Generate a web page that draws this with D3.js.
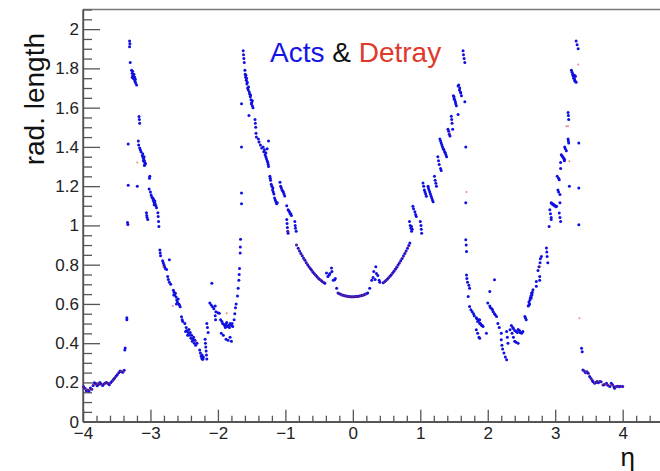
<!DOCTYPE html>
<html>
<head>
<meta charset="utf-8">
<script src="https://cdn.jsdelivr.net/npm/d3@7"></script>
<style>
  html, body { margin: 0; padding: 0; background: #fff; }
  svg { display: block; font-family: "Liberation Sans", Arial, Helvetica, sans-serif; }
</style>
</head>
<body>
<svg id="chart" width="660" height="471"></svg>
<script>
// ---------------- DATA ----------------
const xTickValues = [-4, -3, -2, -1, 0, 1, 2, 3, 4];
const xTickLabels = ["\u22124", "\u22123", "\u22122", "\u22121", "0", "1", "2", "3", "4"];
const yTickValues = [0, 0.2, 0.4, 0.6, 0.8, 1, 1.2, 1.4, 1.6, 1.8, 2];
const yTickLabels = ["0", "0.2", "0.4", "0.6", "0.8", "1", "1.2", "1.4", "1.6", "1.8", "2"];

// Acts (blue): [eta, radiation length]
const actsForwardNeg = [
  [-3.99,0.178],[-3.97,0.170],[-3.95,0.158],[-3.93,0.162],[-3.91,0.156],[-3.89,0.172],[-3.87,0.165],
  [-3.85,0.185],[-3.83,0.198],[-3.81,0.192],[-3.79,0.183],[-3.77,0.190],[-3.75,0.200],[-3.73,0.192],
  [-3.71,0.185],[-3.69,0.192],[-3.67,0.197],[-3.65,0.200],[-3.63,0.195],[-3.61,0.188],[-3.59,0.198],
  [-3.57,0.206],[-3.55,0.215],[-3.53,0.222],[-3.51,0.232],[-3.49,0.240],[-3.47,0.250],[-3.45,0.258],
  [-3.43,0.255],[-3.41,0.252],[-3.39,0.262],
  [-3.38,0.365],[-3.375,0.375],[-3.35,0.53],[-3.35,0.52],
  [-3.31,1.94],[-3.305,1.925],[-3.31,1.91],[-3.30,1.83],[-3.28,1.79],[-3.27,1.775],[-3.26,1.765],
  [-3.27,1.755],[-3.25,1.76],[-3.24,1.745],[-3.23,1.735],[-3.22,1.725],[-3.205,1.715],
  [-3.265,1.785],[-3.255,1.75],[-3.245,1.77],[-3.235,1.755],[-3.225,1.745],
  [-3.17,1.555],[-3.165,1.54],[-3.16,1.52],[-3.33,1.415],
  [-3.18,1.43],[-3.175,1.41],[-3.16,1.395],[-3.15,1.385],[-3.14,1.375],
  [-3.12,1.355],[-3.11,1.345],[-3.10,1.34],[-3.09,1.33],[-3.085,1.32],[-3.08,1.31],
  [-3.115,1.365],[-3.105,1.33],[-3.095,1.35],[-3.075,1.315],[-3.09,1.305],
  [-3.01,1.25],[-3.015,1.24],[-3.33,1.205],[-3.195,1.20],[-3.02,1.185],
  [-3.0,1.17],[-2.99,1.155],[-2.98,1.145],[-2.96,1.13],[-2.95,1.12],[-2.94,1.115],[-2.93,1.11],[-2.92,1.10],
  [-2.97,1.14],[-2.955,1.135],[-2.945,1.105],[-2.935,1.125],[-2.91,1.09],
  [-3.06,1.065],[-3.055,1.05],[-3.05,1.04],[-3.04,1.03],
  [-2.89,1.065],[-2.885,1.045],[-2.88,1.02],[-2.875,0.995],
  [-3.34,1.015],[-3.335,1.005],
  [-2.86,0.875],[-2.855,0.86],[-2.85,0.845],
  [-2.82,0.82],[-2.81,0.81],[-2.80,0.80],[-2.79,0.79],[-2.78,0.78],[-2.76,0.775],[-2.72,0.825],
  [-2.745,0.74],[-2.735,0.725],[-2.72,0.71],[-2.70,0.70],
  [-2.66,0.67],[-2.65,0.66],[-2.64,0.645],[-2.62,0.635],[-2.61,0.62],[-2.60,0.61],[-2.58,0.60],[-2.57,0.595],
  [-2.655,0.645],[-2.63,0.655],[-2.615,0.60],[-2.59,0.625],[-2.56,0.585],
  [-2.54,0.535],[-2.53,0.52],[-2.52,0.51],
  [-2.49,0.50],[-2.47,0.48],[-2.46,0.465],[-2.44,0.455],[-2.43,0.47],[-2.42,0.44],[-2.40,0.425],
  [-2.38,0.41],[-2.36,0.43],[-2.35,0.40],[-2.33,0.39],
  [-2.48,0.46],[-2.45,0.44],[-2.41,0.455],[-2.39,0.44],[-2.37,0.42],[-2.34,0.415],[-2.31,0.40],
  [-2.27,0.365],[-2.26,0.35],[-2.25,0.335],[-2.24,0.325],[-2.23,0.318],[-2.22,0.32],
  [-2.235,0.34],[-2.215,0.33]
];
const actsBarrelNeg = [
  [-2.19,0.42],[-2.185,0.40],[-2.18,0.38],[-2.175,0.36],[-2.17,0.34],[-2.165,0.32],
  [-2.165,0.50],[-2.155,0.48],[-2.145,0.455],
  [-2.09,0.705],
  [-2.12,0.605],[-2.10,0.595],[-2.08,0.585],[-2.06,0.575],[-2.04,0.59],[-2.03,0.56],[-2.0,0.555],[-1.98,0.553],
  [-2.04,0.54],[-2.035,0.52],
  [-1.96,0.52],[-1.93,0.50],[-1.90,0.49],[-1.88,0.495],[-1.86,0.485],[-1.84,0.49],[-1.82,0.50],[-1.80,0.49],[-1.78,0.485],
  [-1.94,0.51],[-1.91,0.495],[-1.87,0.505],[-1.83,0.48],[-1.79,0.50],[-1.89,0.48],
  [-1.95,0.45],[-1.92,0.44],[-1.88,0.42],[-1.85,0.415],[-1.82,0.43],[-1.80,0.41],
  [-1.76,0.52],[-1.75,0.55],[-1.74,0.58],[-1.73,0.60],
  [-1.71,0.64],[-1.70,0.68],[-1.69,0.72],[-1.685,0.75],[-1.68,0.78],
  [-1.67,0.86],[-1.668,0.89],[-1.665,0.93],
  [-1.65,1.11],[-1.65,1.165],[-1.65,1.40],[-1.65,1.62],
  [-1.625,1.89],[-1.62,1.87],[-1.615,1.85],[-1.61,1.83],
  [-1.60,1.79],[-1.595,1.77],[-1.59,1.755],[-1.58,1.74],
  [-1.57,1.72],[-1.56,1.70],[-1.55,1.69],[-1.53,1.67],[-1.52,1.655],[-1.51,1.64],[-1.50,1.625],[-1.49,1.61],[-1.48,1.60],
  [-1.585,1.765],[-1.575,1.75],[-1.565,1.73],[-1.545,1.705],[-1.535,1.68],[-1.515,1.665],[-1.505,1.62],[-1.49,1.635],
  [-1.54,1.56],
  [-1.45,1.54],[-1.445,1.52],[-1.44,1.50],[-1.435,1.47],[-1.43,1.45],
  [-1.40,1.44],[-1.39,1.425],[-1.37,1.41],[-1.35,1.395],
  [-1.33,1.40],[-1.32,1.375],[-1.30,1.36],[-1.28,1.34],[-1.26,1.32],[-1.25,1.30],[-1.25,1.43],[-1.27,1.39],
  [-1.31,1.385],[-1.29,1.35],[-1.29,1.37],[-1.27,1.33],[-1.255,1.31],
  [-1.23,1.25],[-1.22,1.23],[-1.21,1.21],[-1.19,1.18],[-1.17,1.16],[-1.16,1.14],[-1.14,1.12],[-1.13,1.11],
  [-1.225,1.24],[-1.20,1.20],[-1.18,1.17],[-1.15,1.13],[-1.12,1.115],[-1.185,1.19],
  [-1.08,1.22],[-1.07,1.20],[-1.05,1.18],[-1.03,1.17],[-1.01,1.15],
  [-1.06,1.19],[-1.04,1.175],[-1.02,1.16],
  [-0.98,1.10],[-0.96,1.08],[-0.94,1.07],[-0.92,1.06],[-0.91,1.05],[-0.95,1.075],[-0.93,1.06],
  [-0.98,1.03],[-0.975,1.01],[-0.97,0.99],[-0.965,0.97],[-0.96,0.96],
  [-0.86,1.02],[-0.855,1.0],[-0.85,0.985],[-0.84,0.97]
];
const actsCentral = [
  [-0.835,0.900],[-0.81,0.884],[-0.79,0.870],[-0.77,0.857],[-0.75,0.845],[-0.73,0.833],[-0.71,0.822],
  [-0.69,0.810],[-0.67,0.800],[-0.65,0.790],[-0.63,0.780],[-0.61,0.771],[-0.59,0.762],[-0.57,0.754],
  [-0.55,0.746],[-0.53,0.738],[-0.51,0.731],[-0.49,0.725],[-0.47,0.719],[-0.45,0.713],[-0.43,0.709],[-0.415,0.705],
  [-0.39,0.757],[-0.37,0.74],[-0.35,0.748],[-0.34,0.755],[-0.316,0.783],[-0.31,0.765],[-0.29,0.72],
  [-0.27,0.723],[-0.26,0.73],[-0.24,0.68],
  [-0.22,0.656],[-0.20,0.652],[-0.18,0.649],[-0.16,0.646],[-0.14,0.644],[-0.12,0.642],[-0.10,0.640],
  [-0.08,0.639],[-0.06,0.638],[-0.04,0.637],[-0.02,0.637],[0.0,0.637],[0.02,0.637],[0.04,0.638],
  [0.06,0.638],[0.08,0.639],[0.10,0.640],[0.12,0.642],[0.14,0.644],[0.16,0.646],[0.18,0.649],
  [0.20,0.652],[0.22,0.656],
  [0.25,0.68],[0.28,0.72],[0.30,0.735],[0.31,0.765],[0.33,0.725],[0.34,0.79],[0.35,0.755],
  [0.37,0.745],[0.39,0.72],[0.40,0.71],
  [0.45,0.708],[0.47,0.713],[0.49,0.719],[0.51,0.726],[0.53,0.733],[0.55,0.741],[0.57,0.749],
  [0.59,0.758],[0.61,0.767],[0.63,0.777],[0.65,0.787],[0.67,0.798],[0.69,0.809],[0.71,0.820],
  [0.73,0.832],[0.75,0.844],[0.77,0.857],[0.79,0.870],[0.81,0.884],[0.83,0.898],[0.845,0.91]
];
const actsBarrelPos = [
  [0.84,1.02],[0.85,1.0],[0.86,0.985],[0.87,0.97],
  [0.87,0.995],[0.88,0.98],
  [0.89,1.097],[0.90,1.085],[0.92,1.07],[0.93,1.055],[0.94,1.046],
  [1.0,1.02],[1.01,1.0],[1.015,0.98],[1.02,0.96],
  [1.04,1.216],[1.05,1.20],[1.06,1.18],[1.08,1.16],[1.09,1.148],[1.07,1.17],
  [1.115,1.20],[1.13,1.18],[1.15,1.16],[1.17,1.14],[1.19,1.12],
  [1.12,1.19],[1.14,1.17],[1.16,1.15],[1.18,1.13],
  [1.21,1.25],[1.22,1.23],[1.23,1.215],[1.24,1.20],
  [1.26,1.35],[1.27,1.33],[1.28,1.31],[1.30,1.29],[1.31,1.28],
  [1.29,1.44],[1.31,1.42],[1.33,1.40],[1.35,1.385],[1.37,1.37],[1.39,1.35],
  [1.30,1.43],[1.32,1.41],[1.34,1.39],[1.36,1.375],[1.38,1.36],
  [1.41,1.49],[1.42,1.48],[1.43,1.465],[1.44,1.455],
  [1.46,1.556],[1.465,1.54],[1.47,1.52],[1.48,1.49],
  [1.56,1.565],
  [1.49,1.66],[1.50,1.645],[1.52,1.63],[1.535,1.61],
  [1.51,1.64],[1.525,1.62],[1.50,1.655],
  [1.56,1.71],[1.58,1.69],[1.60,1.675],[1.61,1.66],
  [1.585,1.70],[1.57,1.715],[1.595,1.68],
  [1.66,1.63],[1.674,1.40],[1.674,1.115],
  [1.634,1.89],[1.64,1.87],[1.65,1.85],[1.66,1.83],
  [1.674,0.927],[1.68,0.90],[1.685,0.867],
  [1.685,0.748],[1.69,0.73],[1.70,0.71],[1.72,0.695],[1.73,0.68],
  [1.71,0.638],
  [1.73,0.587],[1.75,0.57],[1.77,0.56],[1.79,0.55],[1.80,0.54],[1.83,0.53],[1.86,0.52],[1.88,0.52],
  [1.84,0.525],[1.85,0.51],[1.87,0.515],[1.89,0.50],[1.91,0.49],
  [1.88,0.50],[1.90,0.495],[1.92,0.49],[1.93,0.485],
  [1.83,0.468],[1.85,0.45],[1.87,0.43],[1.88,0.425],
  [1.98,0.45],
  [2.0,0.605],[2.03,0.59],[2.06,0.575],[2.08,0.56],[2.10,0.55],[2.13,0.536],
  [2.04,0.58],[2.07,0.57],[2.11,0.545],
  [2.10,0.723],[2.03,0.663],
  [2.15,0.50],[2.17,0.48],[2.20,0.45],
  [2.20,0.417],[2.21,0.39],[2.22,0.37],[2.24,0.35],[2.26,0.33],[2.28,0.315],
  [2.33,0.468],[2.36,0.45],[2.38,0.43],[2.40,0.41],[2.42,0.405],[2.45,0.40]
];
const actsForwardPos = [
  [2.28,0.46],[2.29,0.43],[2.30,0.40],
  [2.35,0.49],[2.38,0.475],[2.42,0.46],[2.45,0.47],[2.48,0.455],[2.50,0.45],[2.52,0.46],
  [2.37,0.48],[2.40,0.465],[2.44,0.455],[2.47,0.465],[2.51,0.455],
  [2.55,0.536],[2.56,0.528],[2.57,0.52],
  [2.60,0.59],[2.61,0.61],[2.62,0.60],[2.63,0.63],[2.64,0.64],[2.65,0.655],[2.66,0.66],[2.67,0.672],
  [2.61,0.595],[2.625,0.62],[2.645,0.63],[2.655,0.645],
  [2.72,0.714],[2.72,0.69],
  [2.77,0.74],[2.77,0.72],
  [2.745,0.77],[2.76,0.79],[2.775,0.81],[2.795,0.842],[2.78,0.83],
  [2.89,0.81],
  [2.87,0.885],[2.875,0.865],[2.88,0.842],
  [2.91,0.995],
  [2.92,1.08],[2.93,1.06],[2.94,1.04],[2.94,1.03],
  [2.94,1.115],[2.96,1.11],[2.98,1.105],[3.0,1.10],[3.02,1.097],
  [2.95,1.11],[2.97,1.105],[2.99,1.10],[3.01,1.095],
  [3.06,1.063],[3.07,1.04],[3.08,1.02],
  [3.07,1.115],
  [3.04,1.18],[3.05,1.17],[3.07,1.157],
  [3.03,1.25],[3.05,1.24],[3.06,1.233],
  [3.21,1.20],[3.35,1.19],
  [3.08,1.32],[3.08,1.29],
  [3.09,1.36],[3.11,1.35],[3.13,1.34],[3.14,1.335],
  [3.10,1.355],[3.12,1.345],[3.135,1.33],
  [3.14,1.40],[3.15,1.39],[3.165,1.38],
  [3.19,1.44],[3.195,1.43],[3.20,1.42],
  [3.35,1.42],
  [3.19,1.575],[3.195,1.56],[3.20,1.54],
  [3.24,1.79],[3.26,1.77],[3.27,1.76],[3.28,1.75],[3.29,1.74],[3.30,1.76],[3.31,1.73],
  [3.25,1.78],[3.265,1.765],[3.275,1.75],[3.285,1.765],[3.295,1.735],
  [3.31,1.94],[3.325,1.92],[3.34,1.90],
  [3.35,1.004],
  [3.39,0.374],[3.40,0.357],
  [3.41,0.263],[3.43,0.258],[3.45,0.25],[3.47,0.255],[3.49,0.247],
  [3.51,0.23],[3.53,0.22],[3.55,0.21],[3.56,0.204],
  [3.585,0.196],[3.60,0.20],[3.62,0.205],[3.64,0.198],[3.66,0.205],[3.68,0.204],
  [3.71,0.187],[3.73,0.19],[3.76,0.196],[3.78,0.186],[3.81,0.179],
  [3.83,0.196],[3.85,0.188],[3.87,0.178],[3.88,0.17],
  [3.905,0.179],[3.93,0.18],[3.95,0.178],[3.97,0.18],[4.0,0.179]
];

// Detray (red): points where the red markers show
const detrayTailNeg = [
  [-3.99,0.176],[-3.96,0.166],[-3.93,0.160],[-3.90,0.164],[-3.87,0.167],[-3.84,0.190],[-3.80,0.190],
  [-3.76,0.195],[-3.72,0.190],[-3.68,0.194],[-3.64,0.198],[-3.60,0.192],[-3.56,0.210],[-3.52,0.227],
  [-3.48,0.245],[-3.44,0.257],[-3.40,0.256]
];
const detrayScatter = [
  [-3.195,1.32],[-2.81,0.79],[-2.67,0.59],[-2.32,0.41],[-1.87,0.553],[-0.96,0.97],
  [1.44,1.47],[1.685,1.17],[2.78,0.79],[3.165,1.505],[3.19,1.505],[3.21,1.327],[3.34,1.82],[3.36,0.527]
];
const detrayCentral = [
  [-0.835,0.901],[-0.80,0.877],[-0.76,0.851],[-0.72,0.827],[-0.68,0.805],[-0.64,0.785],[-0.60,0.766],
  [-0.56,0.750],[-0.52,0.734],[-0.48,0.722],[-0.44,0.711],
  [-0.21,0.654],[-0.17,0.647],[-0.13,0.643],[-0.09,0.639],[-0.05,0.637],[-0.01,0.636],[0.03,0.637],
  [0.07,0.638],[0.11,0.641],[0.15,0.645],[0.19,0.650],
  [0.46,0.710],[0.50,0.722],[0.54,0.737],[0.58,0.753],[0.62,0.772],[0.66,0.792],[0.70,0.814],
  [0.74,0.838],[0.78,0.863],[0.82,0.891]
];
const detrayTailPos = [
  [3.42,0.260],[3.46,0.252],[3.50,0.240],[3.54,0.215],[3.58,0.198],[3.62,0.204],[3.66,0.203],
  [3.70,0.190],[3.74,0.192],[3.78,0.188],[3.82,0.188],[3.86,0.184],[3.90,0.176],[3.94,0.179],[3.98,0.180]
];

const actsAll = [].concat(actsForwardNeg, actsBarrelNeg, actsCentral, actsBarrelPos, actsForwardPos);
const detrayAll = [].concat(detrayTailNeg, detrayScatter, detrayCentral, detrayTailPos);

// ---------------- CHART ----------------
const W = 660, H = 471;
const mLeft = 83, mBottom = 421.7, mTop = 9.5;
const pxPerEta = 67.46;
const svg = d3.select("#chart");
svg.append("rect").attr("width", W).attr("height", H).attr("fill", "#fff");

const x = d3.scaleLinear().domain([-4, 4.6]).range([mLeft, mLeft + 8.6 * pxPerEta]);
const y = d3.scaleLinear().domain([0, 2.1]).range([mBottom, mTop]);

const axisColor = "#555";
const textColor = "#222";

// frame top line
svg.append("line")
  .attr("x1", mLeft).attr("x2", W + 5).attr("y1", mTop).attr("y2", mTop)
  .attr("stroke", "#777").attr("stroke-width", 1.4);

// minor ticks
const xMinor = d3.range(0, 44).filter(i => i % 5 !== 0).map(i => -4 + i * 0.2);
const yMinor = d3.range(0, 43).filter(i => i % 4 !== 0).map(i => i * 0.05);

const gxMinor = svg.append("g").attr("transform", `translate(0,${mBottom})`)
  .call(d3.axisBottom(x).tickValues(xMinor).tickFormat("").tickSize(-6).tickSizeOuter(0));
const gyMinor = svg.append("g").attr("transform", `translate(${mLeft},0)`)
  .call(d3.axisLeft(y).tickValues(yMinor).tickFormat("").tickSize(-9).tickSizeOuter(0));

const gx = svg.append("g").attr("transform", `translate(0,${mBottom})`)
  .call(d3.axisBottom(x).tickValues(xTickValues)
    .tickFormat((d, i) => xTickLabels[i]).tickSize(-12).tickSizeOuter(0).tickPadding(5));
const gy = svg.append("g").attr("transform", `translate(${mLeft},0)`)
  .call(d3.axisLeft(y).tickValues(yTickValues)
    .tickFormat((d, i) => yTickLabels[i]).tickSize(-17).tickSizeOuter(0).tickPadding(4));

[gxMinor, gyMinor, gx, gy].forEach(g => {
  g.selectAll("path.domain").attr("stroke", axisColor).attr("stroke-width", 1.4);
  g.selectAll(".tick line").attr("stroke", axisColor).attr("stroke-width", 1.3);
  g.selectAll("text").attr("fill", textColor).style("font-size", "17px")
    .style("font-family", "'Liberation Sans', Arial, Helvetica, sans-serif");
});
gx.select("path.domain").attr("d", `M${mLeft},0H${W + 5}`);
gy.select("path.domain").attr("d", `M0,${mBottom}V${mTop}`);

// markers
svg.append("g").selectAll("circle.acts").data(actsAll).join("circle")
  .attr("class", "acts")
  .attr("cx", d => x(d[0])).attr("cy", d => y(d[1]))
  .attr("r", 1.5).attr("fill", "#1010e0");

svg.append("g").selectAll("circle.detray").data(detrayAll).join("circle")
  .attr("class", "detray")
  .attr("cx", d => x(d[0])).attr("cy", d => y(d[1]))
  .attr("r", 1.0).attr("fill", "#e02a1a").attr("fill-opacity", 0.55);

// titles
const title = svg.append("text").attr("x", 270).attr("y", 62)
  .style("font-size", "28px");
title.append("tspan").attr("fill", "#1515e6").text("Acts");
title.append("tspan").attr("fill", "#111").text(" & ");
title.append("tspan").attr("fill", "#e0392b").text("Detray");

svg.append("text")
  .attr("transform", "translate(44,33) rotate(-90)")
  .attr("text-anchor", "end")
  .attr("fill", "#111")
  .style("font-size", "28px")
  .text("rad. length");

svg.append("text")
  .attr("x", 635).attr("y", 466)
  .attr("text-anchor", "end")
  .attr("fill", "#111")
  .style("font-size", "26px")
  .text("η");
</script>
</body>
</html>
